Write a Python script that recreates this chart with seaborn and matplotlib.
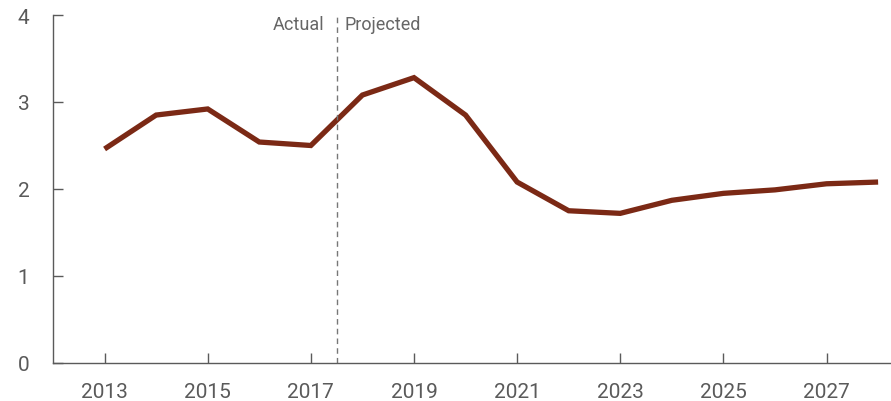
import matplotlib
matplotlib.use("Agg")
import matplotlib.pyplot as plt
import seaborn as sns
import pandas as pd

# values
years = [2013, 2014, 2015, 2016, 2017, 2018, 2019, 2020,
         2021, 2022, 2023, 2024, 2025, 2026, 2027, 2028]
values = [2.46, 2.85, 2.92, 2.54, 2.50, 3.08, 3.28, 2.85,
          2.08, 1.75, 1.72, 1.87, 1.95, 1.99, 2.06, 2.08]
x_ticks = [2013, 2015, 2017, 2019, 2021, 2023, 2025, 2027]
y_ticks = [0, 1, 2, 3, 4]
split_year = 2017.5

df = pd.DataFrame({"year": years, "value": values})

sns.set_style("white")
plt.rcParams['font.family'] = ['Roboto', 'DejaVu Sans']

grey = "#5a5a5a"
fig = plt.figure(figsize=(8.91, 4.02), dpi=100)
ax = fig.add_axes([53 / 891, 1 - 364 / 402, 838 / 891, 348 / 402])

sns.lineplot(data=df, x="year", y="value", ax=ax, color="#7b2915",
             linewidth=3.8, solid_joinstyle="miter", solid_capstyle="butt")

# actual / projected divider
ax.axvline(split_year, color="#777777", linewidth=1, linestyle=(0, (4, 3)))
ax.annotate("Actual", xy=(split_year, 3.9), xytext=(-9, 0),
            textcoords="offset points", ha="right", va="center",
            fontsize=13, color="#666666")
ax.annotate("Projected", xy=(split_year, 3.9), xytext=(6, 0),
            textcoords="offset points", ha="left", va="center",
            fontsize=13, color="#666666")

ax.set_xlim(2012.0, 2028.25)
ax.set_ylim(0, 4)
ax.set_xticks(x_ticks)
ax.set_yticks(y_ticks)
ax.set_xlabel("")
ax.set_ylabel("")

for side in ["top", "right"]:
    ax.spines[side].set_visible(False)
for side in ["left", "bottom"]:
    ax.spines[side].set_color(grey)
    ax.spines[side].set_linewidth(1)

ax.tick_params(axis="both", direction="in", length=7, width=1, color=grey,
               labelsize=15, labelcolor=grey)
ax.tick_params(axis="x", pad=14, bottom=True)
ax.tick_params(axis="y", pad=17, left=True)

fig.savefig("out.png", dpi=100)
